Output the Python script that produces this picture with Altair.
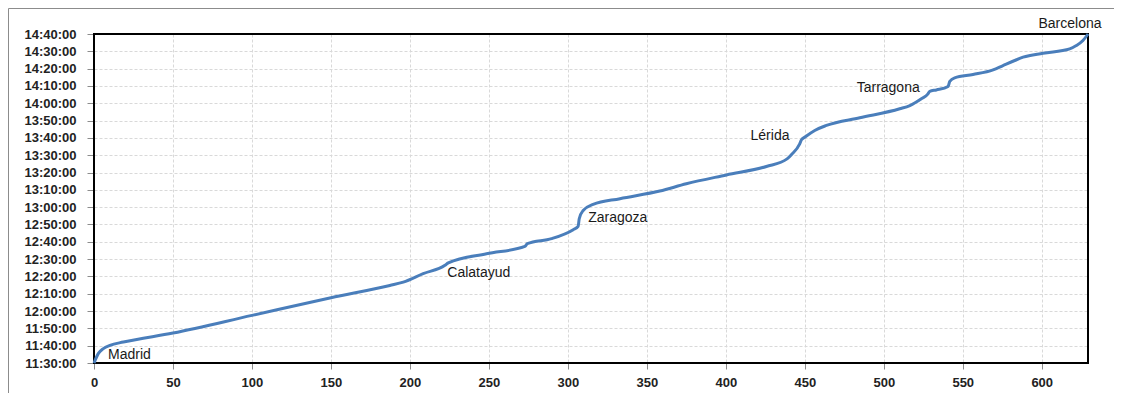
import altair as alt
import pandas as pd

# ---- data ----
km = [0, 2.7, 5.9, 10.1, 18.6, 50, 100, 150, 187.3, 195.8, 208.4, 222.2, 224.3,
      248.5, 272.8, 274.3, 289.7, 303.4, 306.5, 307.2, 309.7, 316, 333, 358.2,
      375, 400.4, 425.7, 438.8, 441.6, 446.8, 447.9, 450.6, 456.3, 463.7, 484.8,
      510.1, 516.5, 523.8, 528, 529.1, 533.3, 540.7, 541.8, 544.9, 556.5, 569.2,
      575.5, 582.9, 588.2, 600.8, 617.7, 621.9, 626.1, 629.3]
clock = ["11:30:00", "11:35:24", "11:38:18", "11:40:12", "11:42:06", "11:47:18",
         "11:57:30", "12:07:42", "12:14:48", "12:16:42", "12:21:36", "12:26:24",
         "12:27:48", "12:33:06", "12:37:18", "12:38:54", "12:41:48", "12:47:00",
         "12:48:54", "12:53:18", "12:58:06", "13:01:36", "13:04:54", "13:09:18",
         "13:13:30", "13:18:36", "13:23:30", "13:27:54", "13:30:24", "13:36:36",
         "13:38:54", "13:40:48", "13:44:18", "13:47:12", "13:51:36", "13:56:48",
         "13:58:42", "14:02:36", "14:05:24", "14:06:54", "14:07:42", "14:09:42",
         "14:12:42", "14:14:42", "14:16:36", "14:19:18", "14:21:48", "14:24:42",
         "14:26:36", "14:28:54", "14:31:24", "14:33:18", "14:36:12", "14:40:00"]

stations = ["Madrid", "Calatayud", "Zaragoza", "Lérida", "Tarragona", "Barcelona"]
station_km = [0, 224.3, 307.2, 447.9, 529.1, 629.3]
station_clock = ["11:30:00", "12:27:48", "12:53:18", "13:38:54", "14:06:54", "14:40:00"]

y_tick_labels = ["11:30:00", "11:40:00", "11:50:00", "12:00:00", "12:10:00",
                 "12:20:00", "12:30:00", "12:40:00", "12:50:00", "13:00:00",
                 "13:10:00", "13:20:00", "13:30:00", "13:40:00", "13:50:00",
                 "14:00:00", "14:10:00", "14:20:00", "14:30:00", "14:40:00"]
x_tick_values = [0, 50, 100, 150, 200, 250, 300, 350, 400, 450, 500, 550, 600]


def secs(s):
    h, m, sec = (int(p) for p in s.split(":"))
    return h * 3600 + m * 60 + sec


y_ticks = [secs(s) for s in y_tick_labels]
route = pd.DataFrame({"km": km, "t": [secs(c) for c in clock]})
stops = pd.DataFrame({"km": station_km, "t": [secs(c) for c in station_clock],
                      "name": stations})

FONT = "Liberation Sans"
W, H = 994, 329

x_enc = alt.X("km:Q", title=None,
              scale=alt.Scale(domain=[0, max(km)], nice=False, zero=False),
              axis=alt.Axis(values=x_tick_values, tickSize=6, labelPadding=7,
                            labelFlush=False, labelOverlap=False))
y_enc = alt.Y("t:Q", title=None,
              scale=alt.Scale(domain=[y_ticks[0], y_ticks[-1]], nice=False, zero=False),
              axis=alt.Axis(values=y_ticks, tickSize=7, labelPadding=11,
                            labelExpr="utcFormat(datum.value * 1000, '%H:%M:%S')",
                            labelFlush=False, labelOverlap=False))

one = pd.DataFrame({"k": [0]})

# outer chart frame (left/top edges visible in the reference)
frame = alt.Chart(one).mark_rect(
    fill="transparent", stroke="#8c8c8c", strokeWidth=1
).encode(x=alt.value(-85.5), x2=alt.value(1600), y=alt.value(-25.5), y2=alt.value(1000))

line = alt.Chart(route).mark_line(
    color="#4A7EBB", strokeWidth=3, interpolate="monotone"
).encode(x=x_enc, y=y_enc, order="km:Q")

# plot-area border drawn above the gridlines
plot_border = alt.Chart(one).mark_rect(
    fill="transparent", stroke="black", strokeWidth=2
).encode(x=alt.value(0), x2=alt.value(W), y=alt.value(0), y2=alt.value(H))

# label placement (style only)
label_style = {
    "Madrid": dict(align="left", dx=14, dy=-8),
    "Calatayud": dict(align="left", dx=-1, dy=10),
    "Zaragoza": dict(align="left", dx=9, dy=-1),
    "Lérida": dict(align="right", dx=-12, dy=-4),
    "Tarragona": dict(align="right", dx=-10, dy=-3),
    "Barcelona": dict(align="center", dx=-18, dy=-10),
}

labels = []
for name in stations:
    st = label_style[name]
    labels.append(
        alt.Chart(stops).transform_filter(alt.datum.name == name).mark_text(
            font=FONT, fontSize=14, color="#1a1a1a", baseline="middle", **st
        ).encode(x=x_enc, y=y_enc, text="name:N")
    )

chart = alt.layer(frame, plot_border, line, *labels).properties(
    width=W, height=H,
    autosize=alt.AutoSizeParams(type="none"),
    padding={"left": 86, "top": 26, "right": 26, "bottom": 30},
).configure_view(
    strokeWidth=0
).configure_axis(
    domain=False,
    grid=True, gridColor="#d9d9d9", gridDash=[3, 2], gridWidth=1,
    tickColor="#8c8c8c", tickWidth=1,
    labelFont=FONT, labelFontSize=13, labelFontWeight="bold", labelColor="#222222",
)

chart.save("out.html", embed_options={"renderer": "svg", "actions": False})
